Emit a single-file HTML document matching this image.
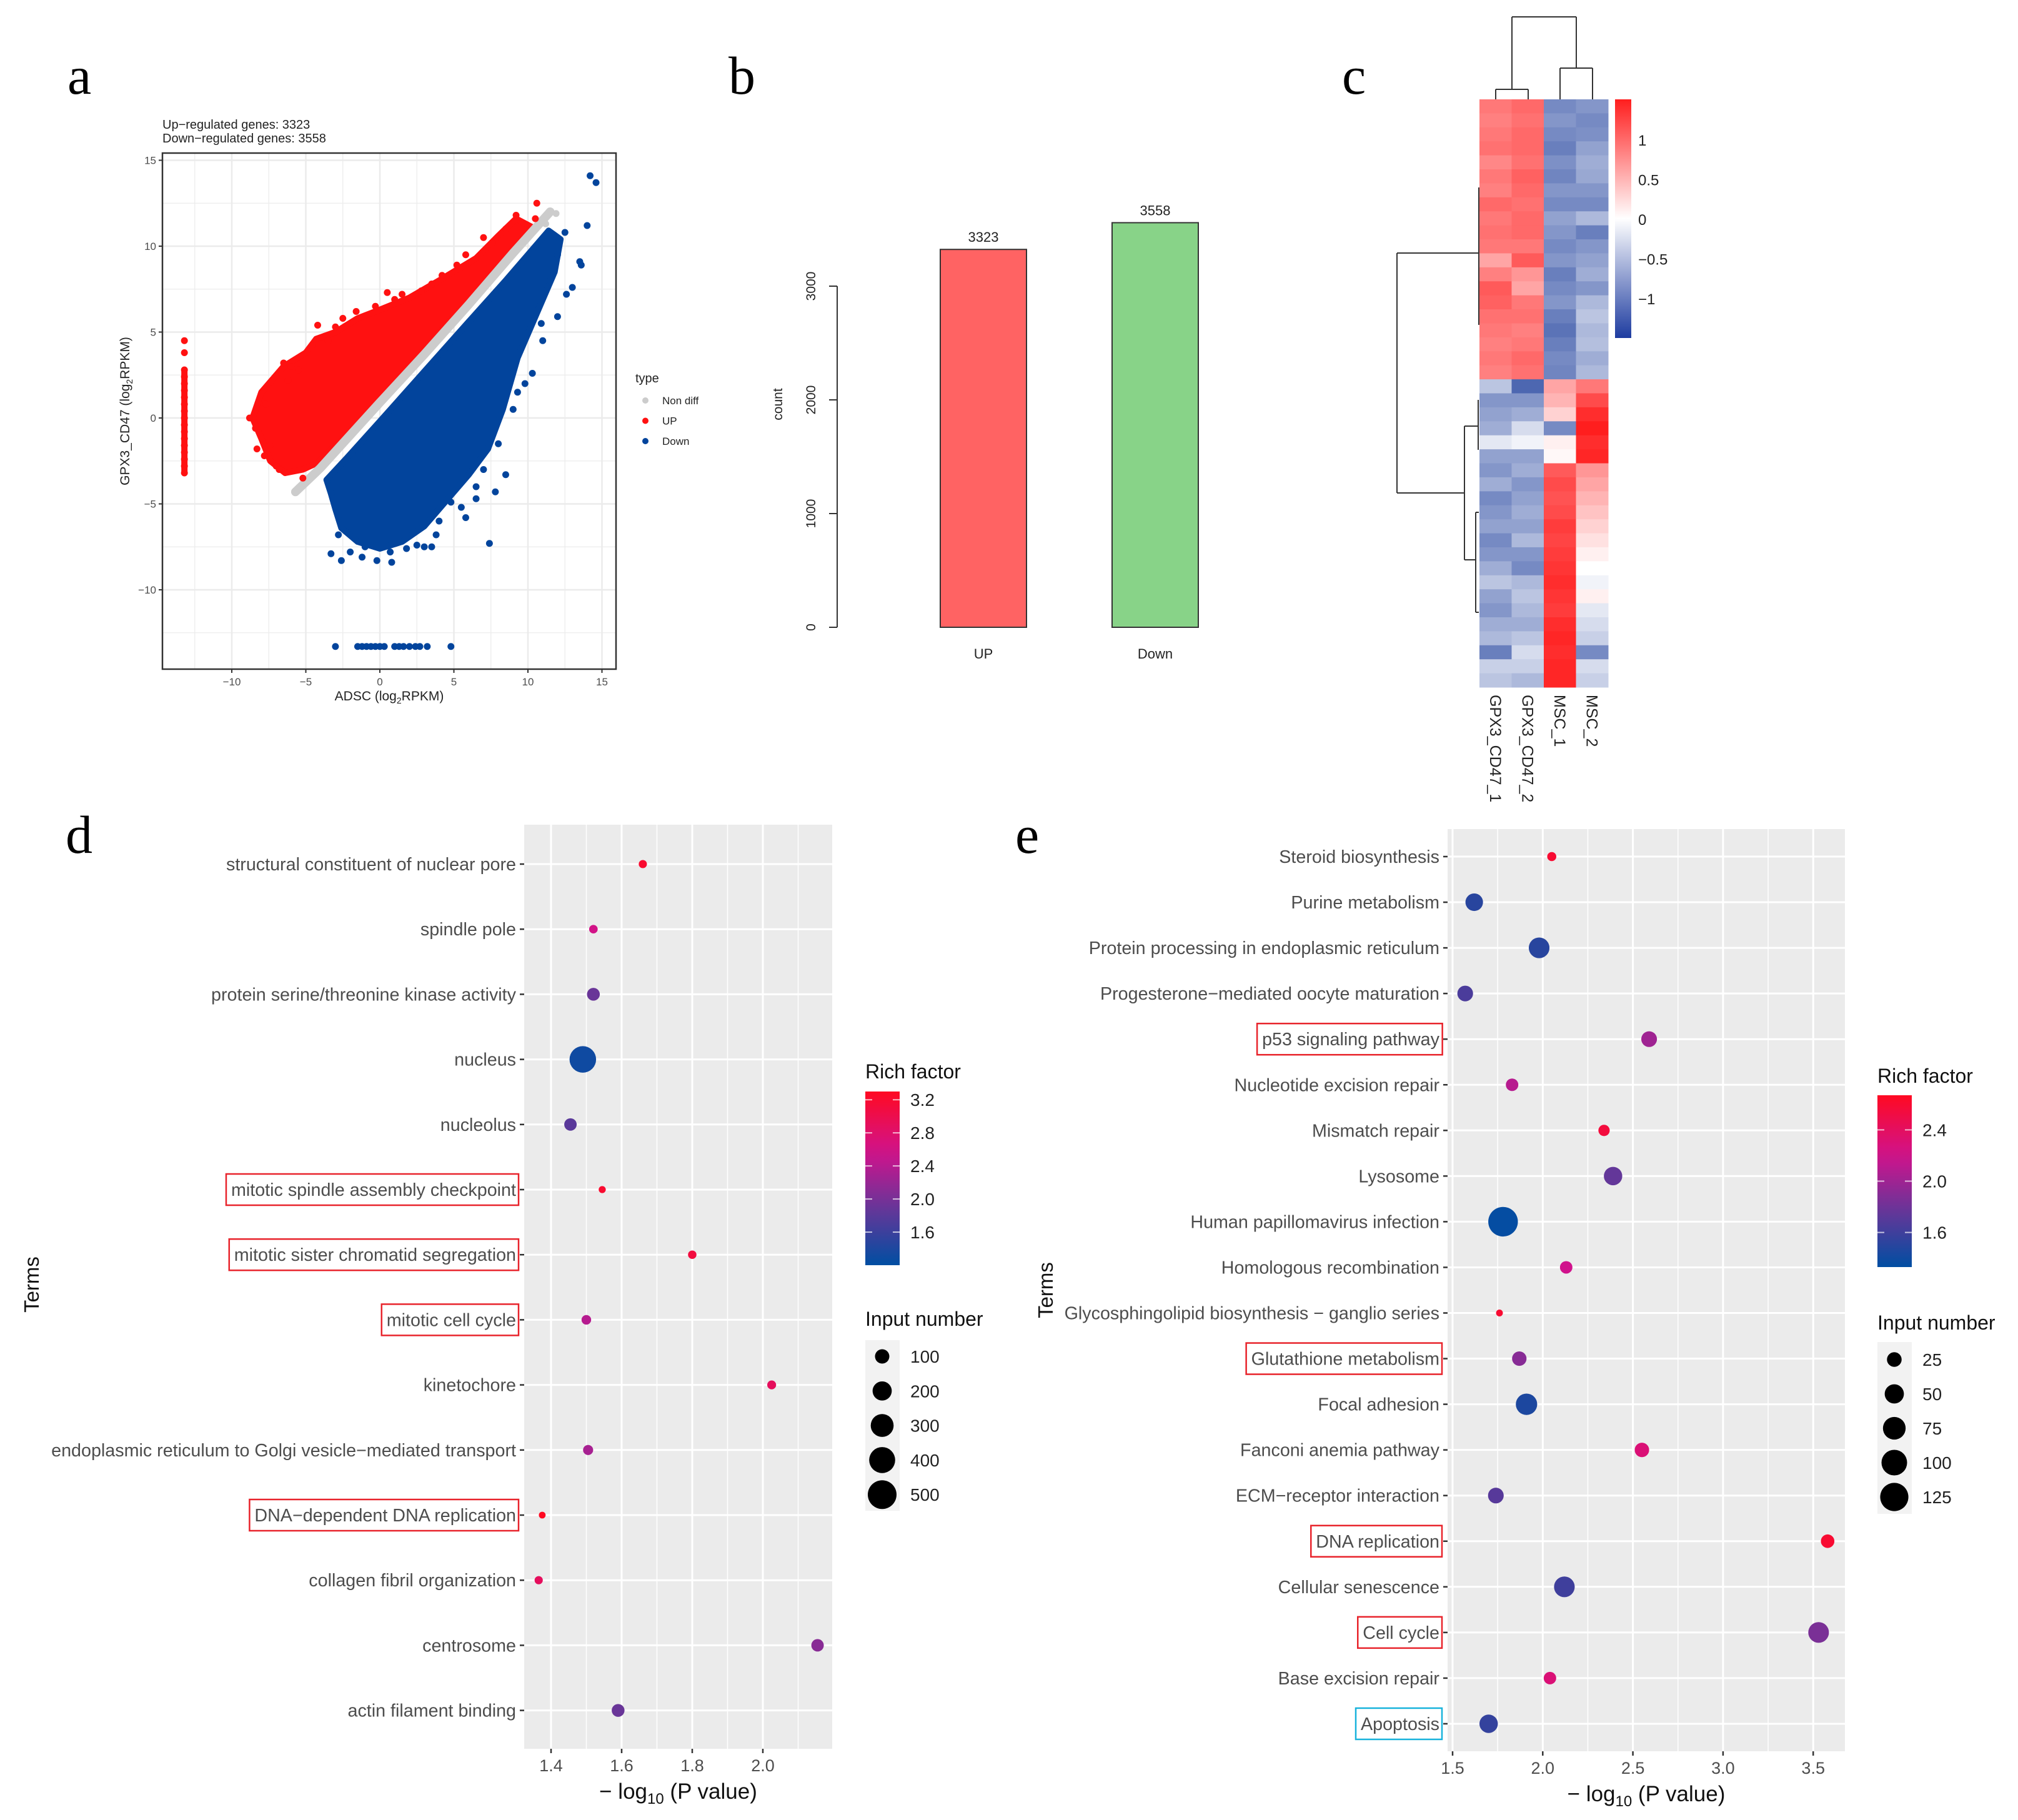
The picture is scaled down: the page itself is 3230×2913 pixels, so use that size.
<!DOCTYPE html>
<html><head><meta charset="utf-8">
<style>
html,body{margin:0;padding:0;background:#fff;}
svg{display:block;}
text{font-family:"Liberation Sans",sans-serif;}
.serif{font-family:"Liberation Serif",serif;}
</style></head>
<body>
<svg id="fig" xmlns="http://www.w3.org/2000/svg" width="3230" height="2913" viewBox="0 0 3230 2913">
<rect width="3230" height="2913" fill="#fff"/>
<text class="serif" x="108" y="150" font-size="86">a</text>
<text class="serif" x="1166" y="150" font-size="86">b</text>
<text class="serif" x="2148" y="150" font-size="86">c</text>
<text class="serif" x="105" y="1365" font-size="86">d</text>
<text class="serif" x="1625" y="1365" font-size="86">e</text>
<g id="pa"></g>
<g id="pb"></g>
<g id="pc"></g>
<g id="pd"></g>
<g id="pe"></g>
</svg>
<script>
// ---------- Panel a data ----------
const aUpCloud=[[-8.6,0],[-8.0,-1.2],[-7.4,-2.5],[-6.4,-3.2],[-5.2,-3.0],[-4.2,-2.6],[-3.5,-2.0],[-2,-0.8],[0,1.1],[3,4.0],[6,6.9],[8.5,9.3],[10.3,11.1],[9.2,11.6],[8,10.6],[6.5,9.3],[4,8.0],[2,7.0],[0,6.3],[-1.5,5.8],[-3,5.0],[-4.3,4.6],[-5,3.8],[-6.5,3.0],[-8,1.5]];
const aDownCloud=[[-3.6,-3.6],[-2.2,-2.3],[0,-0.2],[3,2.7],[6,5.6],[8.5,8.0],[10.5,10.0],[11.4,10.9],[12.2,10.4],[11.8,8.5],[10.8,6.5],[9.3,3.5],[8.3,0.5],[7.3,-1.8],[6,-3.3],[4.5,-4.8],[3,-6.3],[1.5,-7.2],[0,-7.6],[-1.5,-7.2],[-2.6,-6.4],[-3,-5.3],[-3.3,-4.4]];
const aGrayBand=[[-5.7,-4.3],[-4,-2.9],[-2,-1.0],[0,0.9],[3,3.7],[6,6.6],[9,9.6],[11.5,12.0]];
const aUpOut=[[-8.8,0],[-8.3,-1.8],[-8.4,-0.6],[-7.7,0.8],[-7,-2.8],[-7.4,-1.6],[-6.5,3.2],[-6,3.0],[-6.2,2.2],[-5.2,-3.5],[-4.2,5.4],[-4.6,4.2],[-3.5,4.5],[-3.0,5.3],[-1.6,6.2],[-0.3,6.5],[0.5,7.3],[1.5,7.2],[1.0,6.9],[2.8,7.4],[3.5,7.8],[4.2,8.3],[5.8,9.5],[5.2,8.9],[7,10.5],[7.6,10.2],[8.5,11],[9.2,11.8],[10.5,11.6],[10.6,12.5],[-2.5,5.8],[-5.5,2.8],[-7.8,-2.2],[-6.8,-3.0]];
const aDownOut=[[-3.3,-7.9],[-2.6,-8.3],[-1.2,-8.1],[-0.2,-8.3],[0.8,-8.4],[0.7,-7.8],[2.5,-7.4],[3.0,-7.5],[3.5,-7.5],[7.4,-7.3],[6.5,-4.7],[7.8,-4.3],[8.5,-3.3],[6.5,-4.0],[4.8,-4.9],[10.3,2.6],[9.3,1.5],[11,4.5],[12,5.9],[12.6,7.2],[13,7.6],[13.5,9.1],[13.6,8.9],[14,11.2],[12.5,10.8],[14.2,14.1],[14.6,13.7],[10.9,5.5],[-2.0,-7.8],[-1.0,-7.5],[1.8,-7.6],[4.0,-6.0],[5.5,-5.2],[7.0,-3.0],[8.0,-1.5],[9.0,0.5],[9.8,2.0],[5.8,-5.8],[3.8,-6.8],[-2.8,-6.8],[11.5,8.0],[12.0,9.5]];
const aGrayOut=[[-5.7,-4.3],[-4.3,-3.2],[11.9,11.9],[11.2,11.3]];
const aUpColumnY=[-3.2,-2.8,-2.4,-2.0,-1.6,-1.2,-0.8,-0.4,0,0.4,0.8,1.2,1.6,2.0,2.4,2.8,3.8,4.5];
const aDownRowX=[-3.0,-1.5,-1.2,-0.9,-0.6,-0.3,0,0.3,1.0,1.3,1.6,2.0,2.4,2.7,3.2,4.8];
const aTicks=[-10,-5,0,5,10,15];
// ---------- Panel b data ----------
const bCats=["UP","Down"];
const bVals=[3323,3558];
const bTicks=[0,1000,2000,3000];
// ---------- Panel c data ----------
const cCols=["GPX3_CD47_1","GPX3_CD47_2","MSC_1","MSC_2"];
const cV1=[0.9,0.85,0.9,0.95,0.8,0.9,0.85,1.0,0.9,0.95,0.9,0.6,0.85,1.1,1.05,0.95,0.9,0.85,0.9,0.85,-0.5,-0.9,-0.8,-0.7,-0.2,-0.8,-0.9,-0.7,-1.0,-0.9,-0.8,-1.0,-0.9,-0.7,-0.5,-0.8,-0.9,-0.7,-0.6,-1.1,-0.4,-0.5];
const cV2=[1.0,0.95,1.0,1.0,0.95,1.05,1.0,0.95,1.0,1.0,0.9,1.1,0.7,0.6,0.9,0.95,0.85,0.9,1.0,0.95,-1.3,-0.9,-0.7,-0.3,-0.1,-0.8,-0.7,-0.9,-0.8,-0.7,-0.8,-0.6,-0.9,-1.0,-0.6,-0.5,-0.6,-0.7,-0.5,-0.3,-0.4,-0.6];
const cV3=[-1.0,-0.9,-1.0,-1.1,-0.95,-1.05,-0.9,-1.0,-0.8,-0.9,-1.0,-0.9,-1.1,-1.0,-0.9,-1.1,-1.2,-1.1,-1.0,-1.05,0.6,0.5,0.3,-1.0,0.1,0.05,1.1,1.2,1.15,1.2,1.3,1.25,1.3,1.35,1.4,1.35,1.3,1.4,1.45,1.4,1.45,1.45];
const cV4=[-0.9,-1.0,-0.95,-0.8,-0.7,-0.75,-0.9,-1.0,-0.6,-1.1,-0.9,-0.8,-0.7,-0.9,-0.6,-0.5,-0.6,-0.55,-0.7,-0.6,0.9,1.2,1.4,1.5,1.4,1.45,0.7,0.6,0.5,0.4,0.3,0.2,0.1,0.0,-0.1,0.1,-0.2,-0.3,-0.4,-1.0,-0.3,-0.4];
const cLegTicks=[1,0.5,0,-0.5,-1];
const cLegLabels=["1","0.5","0","\u22120.5","\u22121"];
// ---------- Panel d data ----------
const dTerms=["structural constituent of nuclear pore","spindle pole","protein serine/threonine kinase activity","nucleus","nucleolus","mitotic spindle assembly checkpoint","mitotic sister chromatid segregation","mitotic cell cycle","kinetochore","endoplasmic reticulum to Golgi vesicle\u2212mediated transport","DNA\u2212dependent DNA replication","collagen fibril organization","centrosome","actin filament binding"];
const dP=[1.66,1.52,1.52,1.49,1.455,1.545,1.80,1.50,2.025,1.505,1.375,1.365,2.155,1.59];
const dN=[22,25,75,420,70,14,24,35,28,40,12,22,70,75];
const dRich=[3.2,2.6,1.9,1.3,1.8,3.2,3.1,2.4,2.9,2.3,3.3,2.9,2.1,1.9];
const dHighlight=[5,6,7,10];
const dXTicks=[1.4,1.6,1.8,2.0];
const dRichTicks=[3.2,2.8,2.4,2.0,1.6];
const dSizeLeg=[100,200,300,400,500];
// ---------- Panel e data ----------
const eTerms=["Steroid biosynthesis","Purine metabolism","Protein processing in endoplasmic reticulum","Progesterone\u2212mediated oocyte maturation","p53 signaling pathway","Nucleotide excision repair","Mismatch repair","Lysosome","Human papillomavirus infection","Homologous recombination","Glycosphingolipid biosynthesis \u2212 ganglio series","Glutathione metabolism","Focal adhesion","Fanconi anemia pathway","ECM\u2212receptor interaction","DNA replication","Cellular senescence","Cell cycle","Base excision repair","Apoptosis"];
const eP=[2.05,1.62,1.98,1.57,2.59,1.83,2.34,2.39,1.78,2.13,1.76,1.87,1.91,2.55,1.74,3.58,2.12,3.53,2.04,1.70];
const eN=[6,40,60,30,30,16,12,45,140,16,2,24,65,24,30,20,60,60,16,45];
const eRich=[2.6,1.5,1.5,1.65,2.0,2.1,2.55,1.75,1.35,2.2,2.6,1.9,1.45,2.3,1.7,2.6,1.6,1.85,2.3,1.55];
const eHighlight=[4,11,15,17];
const eCyan=[19];
const eXTicks=[1.5,2.0,2.5,3.0,3.5];
const eRichTicks=[2.4,2.0,1.6];
const eSizeLeg=[25,50,75,100,125];

const NS="http://www.w3.org/2000/svg";
function mk(parent,tag,attrs,txt){const e=document.createElementNS(NS,tag);for(const k in attrs)e.setAttribute(k,attrs[k]);if(txt!==undefined)e.textContent=txt;parent.appendChild(e);return e;}
const fmt=v=>(v<0?"\u2212":"")+Math.abs(v);

// ===== Panel a =====
(function(){
 const g=document.getElementById('pa');
 const X0=260,X1=986,Y0=245,Y1=1071;
 const sx=v=>608+v*23.7, sy=v=>669-v*27.5;
 mk(g,'rect',{x:X0,y:Y0,width:X1-X0,height:Y1-Y0,fill:'#fff'});
 for(let v=-12.5;v<=15;v+=2.5){const gl=mk(g,'line',{x1:sx(v),x2:sx(v),y1:Y0,y2:Y1,stroke:'#ebebeb','stroke-width':Number.isInteger(v/5)?2.5:1.2});}
 for(let v=-12.5;v<=15;v+=2.5){const gl=mk(g,'line',{y1:sy(v),y2:sy(v),x1:X0,x2:X1,stroke:'#ebebeb','stroke-width':Number.isInteger(v/5)?2.5:1.2});}
 const poly=(pts)=>pts.map(p=>sx(p[0])+','+sy(p[1])).join(' ');
 let e=mk(g,'polygon',{points:poly(aUpCloud),fill:'#ff1111',stroke:'#ff1111','stroke-width':10,'stroke-linejoin':'round'});
 
 e=mk(g,'polygon',{points:poly(aDownCloud),fill:'#02449c',stroke:'#02449c','stroke-width':10,'stroke-linejoin':'round'});
 
 e=mk(g,'polyline',{points:poly(aGrayBand),fill:'none',stroke:'#cccccc','stroke-width':14,'stroke-linecap':'round'});
 
 const dots=(arr,col,name)=>arr.forEach(p=>{const c=mk(g,'circle',{cx:sx(p[0]),cy:sy(p[1]),r:5.5,fill:col});});
 dots(aUpOut,'#ff1111','up-point');dots(aDownOut,'#02449c','down-point');dots(aGrayOut,'#cccccc','nondiff-point');
 aUpColumnY.forEach(v=>{const c=mk(g,'circle',{cx:sx(-13.2),cy:sy(v),r:5.5,fill:'#ff1111'});});
 mk(g,'rect',{x:sx(-13.2)-5,y:sy(2.8),width:10,height:sy(-3.2)-sy(2.8),fill:'#ff1111'});
 aDownRowX.forEach(v=>{const c=mk(g,'circle',{cx:sx(v),cy:sy(-13.3),r:5.5,fill:'#02449c'});});
 mk(g,'rect',{x:X0,y:Y0,width:X1-X0,height:Y1-Y0,fill:'none',stroke:'#333','stroke-width':2.5});
 aTicks.forEach(v=>{
  mk(g,'line',{x1:sx(v),x2:sx(v),y1:Y1,y2:Y1+6,stroke:'#333','stroke-width':2});
  let t=mk(g,'text',{x:sx(v),y:Y1+26,'font-size':17,fill:'#4d4d4d','text-anchor':'middle'},fmt(v));
  
  mk(g,'line',{x1:X0-6,x2:X0,y1:sy(v),y2:sy(v),stroke:'#333','stroke-width':2});
  t=mk(g,'text',{x:X0-10,y:sy(v)+6,'font-size':17,fill:'#4d4d4d','text-anchor':'end'},fmt(v));
  
 });
 let t=mk(g,'text',{x:260,y:206,'font-size':20,fill:'#222'},'Up\u2212regulated genes: 3323');
 t=mk(g,'text',{x:260,y:228,'font-size':20,fill:'#222'},'Down\u2212regulated genes: 3558');
 t=mk(g,'text',{x:623,y:1121,'font-size':21,fill:'#222','text-anchor':'middle'});t.innerHTML='ADSC (log<tspan font-size="14" dy="5">2</tspan><tspan dy="-5">RPKM)</tspan>';
 t=mk(g,'text',{x:0,y:0,'font-size':21,fill:'#222','text-anchor':'middle',transform:'translate(207,658) rotate(-90)'});t.innerHTML='GPX3_CD47 (log<tspan font-size="14" dy="5">2</tspan><tspan dy="-5">RPKM)</tspan>';
 t=mk(g,'text',{x:1017,y:612,'font-size':20,fill:'#222'},'type');
 [['Non diff','#cccccc'],['UP','#ff1111'],['Down','#02449c']].forEach((d,i)=>{
  const c=mk(g,'circle',{cx:1033,cy:641+i*32.5,r:5,fill:d[1]});
  const tt=mk(g,'text',{x:1060,y:647+i*32.5,'font-size':17,fill:'#222'},d[0]);
 });
})();

// ===== Panel b =====
(function(){
 const g=document.getElementById('pb');
 const sy=v=>1004-v*0.182;
 const xs=[1505,1780],w=138,cols=['#ff6363','#88d388'];
 mk(g,'line',{x1:1340,x2:1340,y1:sy(0),y2:sy(3000),stroke:'#333','stroke-width':2});
 bTicks.forEach(v=>{
  mk(g,'line',{x1:1327,x2:1340,y1:sy(v),y2:sy(v),stroke:'#333','stroke-width':2});
  const t=mk(g,'text',{x:0,y:0,'font-size':21,fill:'#222','text-anchor':'middle',transform:`translate(1305,${sy(v)}) rotate(-90)`},String(v));
  
 });
 let t=mk(g,'text',{x:0,y:0,'font-size':21,fill:'#222','text-anchor':'middle',transform:'translate(1252,647) rotate(-90)'},'count');
 
 bCats.forEach((c,i)=>{
  const r=mk(g,'rect',{x:xs[i],y:sy(bVals[i]),width:w,height:sy(0)-sy(bVals[i]),fill:cols[i],stroke:'#333','stroke-width':2});
  
  let tt=mk(g,'text',{x:xs[i]+w/2,y:sy(bVals[i])-12,'font-size':22,fill:'#222','text-anchor':'middle'},String(bVals[i]));
  
  tt=mk(g,'text',{x:xs[i]+w/2,y:1054,'font-size':22,fill:'#222','text-anchor':'middle'},c);
  
 });
})();

// ===== Panel c =====
(function(){
 const g=document.getElementById('pc');
 const X0=2368,Y0=159,Y1=1100,cw=51.5;
 const rows=cV1.length, rh=(Y1-Y0)/rows;
 const heat=v=>{v=Math.max(-1.5,Math.min(1.5,v));if(v>=0){const t=v/1.5;return `rgb(255,${Math.round(255-225*t)},${Math.round(255-225*t)})`;}const t=-v/1.5;return `rgb(${Math.round(255-205*t)},${Math.round(255-175*t)},${Math.round(255-90*t)})`;};
 [cV1,cV2,cV3,cV4].forEach((arr,j)=>arr.forEach((v,i)=>{
  const r=mk(g,'rect',{x:X0+j*cw,y:Y0+i*rh,width:cw+0.5,height:rh+0.5,fill:heat(v)});
  
 }));
 const ln=(x1,y1,x2,y2)=>mk(g,'line',{x1,y1,x2,y2,stroke:'#333','stroke-width':2});
 ln(2394,159,2394,143);ln(2446,159,2446,143);ln(2394,143,2446,143);
 ln(2497,159,2497,109);ln(2549,159,2549,109);ln(2497,109,2549,109);
 ln(2420,143,2420,27);ln(2523,109,2523,27);ln(2420,27,2523,27);
 ln(2236,405,2236,789);ln(2236,405,2367,405);ln(2236,789,2344,789);
 ln(2344,682,2344,896);ln(2344,682,2366,682);ln(2344,896,2362,896);
 ln(2362,820,2362,980);ln(2362,980,2367,980);ln(2362,820,2367,820);
 ln(2366,640,2366,720);ln(2367,300,2367,520);
 cCols.forEach((c,j)=>{
  const t=mk(g,'text',{x:0,y:0,'font-size':25,fill:'#222',transform:`translate(${X0+j*cw+cw/2-9},1112) rotate(90)`},c);
  
 });
 const defs=mk(g,'defs',{});const lg=mk(defs,'linearGradient',{id:'heatgrad',x1:0,y1:0,x2:0,y2:1});
 [[0,'rgb(255,30,30)'],[0.5,'#fff'],[1,'rgb(30,60,160)']].forEach(s=>mk(lg,'stop',{offset:s[0],'stop-color':s[1]}));
 const ly=v=>351-v*127;
 const cb=mk(g,'rect',{x:2585,y:159,width:26,height:382,fill:'url(#heatgrad)'});
 
 cLegTicks.forEach((v,i)=>{const t=mk(g,'text',{x:2622,y:ly(v)+9,'font-size':24,fill:'#222'},cLegLabels[i]);});
})();

// ===== bubble panels =====
function richColor(v,lo,hi){
 let t=(v-lo)/(hi-lo);t=Math.max(0,Math.min(1,t));
 const st=[[0,[0,78,162]],[0.35,[110,52,152]],[0.65,[208,18,140]],[1,[255,10,34]]];
 for(let i=1;i<st.length;i++){if(t<=st[i][0]){const a=st[i-1],b=st[i],u=(t-a[0])/(b[0]-a[0]);return 'rgb('+a[1].map((c,k)=>Math.round(c+(b[1][k]-c)*u)).join(',')+')';}}
 return 'rgb(255,10,34)';
}
function bubble(cfg){
 const g=document.getElementById(cfg.id);
 const {X0,X1,Y0,Y1,sx,row,terms,P,N,R,rad,lo,hi}=cfg;
 const bg=mk(g,'rect',{x:X0,y:Y0,width:X1-X0,height:Y1-Y0,fill:'#ebebeb'});
 
 cfg.minor.forEach(v=>mk(g,'line',{x1:sx(v),x2:sx(v),y1:Y0,y2:Y1,stroke:'#fff','stroke-width':1.5}));
 cfg.ticks.forEach(v=>{const l=mk(g,'line',{x1:sx(v),x2:sx(v),y1:Y0,y2:Y1,stroke:'#fff','stroke-width':3});});
 terms.forEach((t,i)=>{
  const l=mk(g,'line',{x1:X0,x2:X1,y1:row(i),y2:row(i),stroke:'#fff','stroke-width':3});
  mk(g,'line',{x1:X0-7,x2:X0,y1:row(i),y2:row(i),stroke:'#333','stroke-width':2.5});
  const tx=mk(g,'text',{x:X0-13,y:row(i)+10,'font-size':cfg.fs,fill:'#4d4d4d','text-anchor':'end'},t);
  
  const box=cfg.hl.includes(i)?'#e8232b':(cfg.cy.includes(i)?'#19b3dc':null);
  if(box){const bb=tx.getBBox();const r=mk(g,'rect',{x:bb.x-8,y:row(i)-25,width:bb.width+12,height:50,fill:'none',stroke:box,'stroke-width':2.5});}
 });
 terms.forEach((t,i)=>{
  const c=mk(g,'circle',{cx:sx(P[i]),cy:row(i),r:rad(N[i]),fill:richColor(R[i],lo,hi)});
  
 });
 cfg.ticks.forEach(v=>{
  mk(g,'line',{x1:sx(v),x2:sx(v),y1:Y1,y2:Y1+7,stroke:'#333','stroke-width':2.5});
  const t=mk(g,'text',{x:sx(v),y:Y1+36,'font-size':27,fill:'#4d4d4d','text-anchor':'middle'},v.toFixed(1));
  
 });
 let t=mk(g,'text',{x:(X0+X1)/2,y:Y1+80,'font-size':35,fill:'#111','text-anchor':'middle'});
 t.innerHTML='\u2212 log<tspan font-size="24" dy="8">10</tspan><tspan dy="-8"> (P value)</tspan>';
 
 t=mk(g,'text',{x:0,y:0,'font-size':33,fill:'#111','text-anchor':'middle',transform:`translate(${cfg.termsX},${cfg.termsY}) rotate(-90)`},'Terms');
 
 const L=cfg.leg;
 t=mk(g,'text',{x:L.x,y:L.titleY,'font-size':32,fill:'#111'},'Rich factor');
 const defs=mk(g,'defs',{});const lg=mk(defs,'linearGradient',{id:cfg.id+'grad',x1:0,y1:1,x2:0,y2:0});
 for(let k=0;k<=10;k++){mk(lg,'stop',{offset:k/10,'stop-color':richColor(lo+(hi-lo)*k/10,lo,hi)});}
 const cb=mk(g,'rect',{x:L.x,y:L.cbTop,width:55,height:L.cbBot-L.cbTop,fill:`url(#${cfg.id}grad)`});
 
 const cy=v=>L.cbBot-(v-lo)/(hi-lo)*(L.cbBot-L.cbTop);
 cfg.richTicks.forEach(v=>{
  mk(g,'line',{x1:L.x,x2:L.x+11,y1:cy(v),y2:cy(v),stroke:'#fff','stroke-width':2,opacity:0.7});
  mk(g,'line',{x1:L.x+44,x2:L.x+55,y1:cy(v),y2:cy(v),stroke:'#fff','stroke-width':2,opacity:0.7});
  const tt=mk(g,'text',{x:L.x+72,y:cy(v)+10,'font-size':28,fill:'#222'},v.toFixed(1));
 });
 t=mk(g,'text',{x:L.x,y:L.sizeTitleY,'font-size':32,fill:'#111'},'Input number');
 mk(g,'rect',{x:L.x,y:L.sizeBgTop,width:55,height:L.sizeBgBot-L.sizeBgTop,fill:'#f2f2f2'});
 cfg.sizeLeg.forEach((n,k)=>{
  const yy=L.sizeY0+k*L.sizeDy;
  const c=mk(g,'circle',{cx:L.x+27,cy:yy,r:rad(n),fill:'#000'});
  const tt=mk(g,'text',{x:L.x+72,y:yy+10,'font-size':28,fill:'#222'},String(n));
 });
}
bubble({id:'pd',X0:839,X1:1332,Y0:1320,Y1:2799,sx:v=>882+(v-1.4)*565,row:i=>1383+i*104.2,terms:dTerms,P:dP,N:dN,R:dRich,
 rad:n=>2.2+0.93*Math.sqrt(n),lo:1.2,hi:3.3,ticks:dXTicks,minor:[1.3,1.5,1.7,1.9,2.1],fs:28.7,hl:dHighlight,cy:[],
 termsX:62,termsY:2056,richTicks:dRichTicks,sizeLeg:dSizeLeg,
 leg:{x:1385,titleY:1726,cbTop:1747,cbBot:2025,sizeTitleY:2122,sizeBgTop:2145,sizeBgBot:2418,sizeY0:2171,sizeDy:55.3}});
bubble({id:'pe',X0:2317,X1:2953,Y0:1327,Y1:2803,sx:v=>2325+(v-1.5)*288.6,row:i=>1371+i*73.05,terms:eTerms,P:eP,N:eN,R:eRich,
 rad:n=>3+1.75*Math.sqrt(n),lo:1.33,hi:2.67,ticks:eXTicks,minor:[1.75,2.25,2.75,3.25],fs:28.7,hl:eHighlight,cy:eCyan,
 termsX:1685,termsY:2065,richTicks:eRichTicks,sizeLeg:eSizeLeg,
 leg:{x:3005,titleY:1733,cbTop:1753,cbBot:2028,sizeTitleY:2128,sizeBgTop:2148,sizeBgBot:2423,sizeY0:2176,sizeDy:55}});
</script>
</body></html>
